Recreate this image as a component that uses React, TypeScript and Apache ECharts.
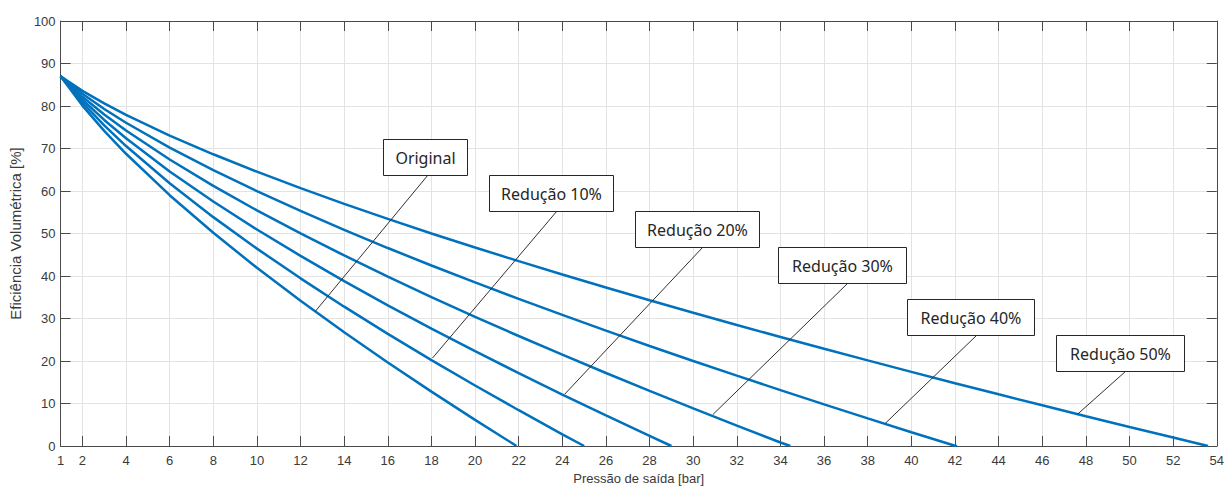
import React, { useEffect, useRef } from "react";
import * as echarts from "echarts";

// Pressão de saída [bar] and Eficiência Volumétrica [%] per curve
const xOriginal = [1, 2, 3, 4, 6, 8, 10, 12, 14, 16, 18, 20, 21.9];
const yOriginal = [87, 80.09, 74.15, 68.76, 59.01, 50.16, 41.93, 34.17, 26.76, 19.64, 12.79, 6.15, 0];

const xRed10 = [1, 2, 3, 4, 6, 8, 10, 12, 14, 16, 18, 20, 22, 24, 25];
const yRed10 = [87, 80.78, 75.43, 70.58, 61.81, 53.85, 46.44, 39.45, 32.78, 26.38, 20.2, 14.23, 8.42, 2.75, 0];

const xRed20 = [1, 2, 3, 4, 6, 8, 10, 12, 14, 16, 18, 20, 22, 24, 26, 28, 29];
const yRed20 = [87, 81.47, 76.72, 72.41, 64.6, 57.53, 50.94, 44.73, 38.8, 33.11, 27.62, 22.31, 17.15, 12.11, 7.19, 2.39, 0];

const xRed30 = [1, 2, 3, 4, 6, 8, 10, 12, 14, 16, 18, 20, 22, 24, 26, 28, 30, 32, 34, 34.45];
const yRed30 = [87, 82.16, 78.0, 74.23, 67.41, 61.21, 55.45, 50.02, 44.83, 39.85, 35.05, 30.4, 25.88, 21.48, 17.17, 12.97, 8.85, 4.81, 0.83, 0];

const xRed40 = [1, 2, 3, 4, 6, 8, 10, 12, 14, 16, 18, 20, 22, 24, 26, 28, 30, 32, 34, 36, 38, 40, 42, 42.1];
const yRed40 = [87, 82.86, 79.29, 76.05, 70.2, 64.9, 59.96, 55.3, 50.85, 46.58, 42.47, 38.49, 34.61, 30.84, 27.15, 23.54, 20.01, 16.55, 13.14, 9.79, 6.5, 3.25, 0.06, 0];

const xRed50 = [1, 2, 3, 4, 6, 8, 10, 12, 14, 16, 18, 20, 22, 24, 26, 28, 30, 32, 34, 36, 38, 40, 42, 44, 46, 48, 50, 52, 53.6];
const yRed50 = [87, 83.56, 80.6, 77.91, 73.05, 68.64, 64.54, 60.67, 56.98, 53.43, 50.01, 46.71, 43.49, 40.35, 37.29, 34.29, 31.36, 28.48, 25.65, 22.87, 20.14, 17.44, 14.78, 12.16, 9.57, 7.01, 4.49, 1.99, 0];

const seriesNames = ["Original", "Redução 10%", "Redução 20%", "Redução 30%", "Redução 40%", "Redução 50%"];
const seriesX = [xOriginal, xRed10, xRed20, xRed30, xRed40, xRed50];
const seriesY = [yOriginal, yRed10, yRed20, yRed30, yRed40, yRed50];

const xTicks = [2, 4, 6, 8, 10, 12, 14, 16, 18, 20, 22, 24, 26, 28, 30, 32, 34, 36, 38, 40, 42, 44, 46, 48, 50, 52, 54];
const xLabels = [1, 2, 4, 6, 8, 10, 12, 14, 16, 18, 20, 22, 24, 26, 28, 30, 32, 34, 36, 38, 40, 42, 44, 46, 48, 50, 52, 54];

// annotation anchor points on the curves (data coords)
const anchorX = [12.68, 18.05, 24.11, 30.9, 38.8, 47.6];
const anchorY = [31.7, 20.7, 12.2, 7.4, 5.3, 7.4];

// annotation box layout (pixels)
const boxes = [
  { x: 383, y: 139, w: 84, h: 36, lx: 428 },
  { x: 489, y: 175, w: 124, h: 36, lx: 557 },
  { x: 635, y: 211, w: 124, h: 36, lx: 703 },
  { x: 778, y: 247, w: 128, h: 36, lx: 848 },
  { x: 907, y: 299, w: 127, h: 36, lx: 977 },
  { x: 1056, y: 335, w: 128, h: 36, lx: 1126 },
];

const AXIS_COLOR = "#4a4a4a";
const FONT = "'Liberation Sans', Arial, Helvetica, sans-serif";

export default function App() {
  const ref = useRef<HTMLDivElement>(null);

  useEffect(() => {
    if (!ref.current) return;
    const chart = echarts.init(ref.current, undefined, { renderer: "svg" });

    const commonX = {
      type: "value" as const,
      min: 1,
      max: 54,
      axisLine: { show: true, onZero: false, lineStyle: { color: AXIS_COLOR, width: 1 } },
      axisTick: { show: true, inside: true, length: 10, customValues: xTicks, lineStyle: { color: AXIS_COLOR, width: 1 } },
    };
    const commonY = {
      type: "value" as const,
      min: 0,
      max: 100,
      interval: 10,
      axisLine: { show: true, onZero: false, lineStyle: { color: AXIS_COLOR, width: 1 } },
      axisTick: { show: true, inside: true, length: 10, lineStyle: { color: AXIS_COLOR, width: 1 } },
    };

    chart.setOption({
      animation: false,
      backgroundColor: "#ffffff",
      grid: { left: 57, right: 6, top: 21, bottom: 39, containLabel: false },
      xAxis: [
        {
          ...commonX,
          position: "bottom",
          name: "Pressão de saída [bar]",
          nameLocation: "middle",
          nameGap: 26,
          nameTextStyle: { color: "#3a3a3a", fontSize: 13, fontFamily: FONT },
          axisLabel: {
            show: true,
            customValues: xLabels,
            margin: 8,
            color: "#3a3a3a",
            fontSize: 13,
            fontFamily: FONT,
          },
          splitLine: { show: true, lineStyle: { color: "#e3e3e3", width: 1 } },
        },
        {
          ...commonX,
          position: "top",
          axisLabel: { show: false },
          splitLine: { show: false },
        },
      ],
      yAxis: [
        {
          ...commonY,
          position: "left",
          name: "Eficiência Volumétrica [%]",
          nameLocation: "middle",
          nameGap: 37,
          nameTextStyle: { color: "#3a3a3a", fontSize: 15, fontFamily: FONT },
          axisLabel: { show: true, margin: 5, color: "#3a3a3a", fontSize: 13, fontFamily: FONT },
          splitLine: { show: true, lineStyle: { color: "#e3e3e3", width: 1 } },
        },
        {
          ...commonY,
          position: "right",
          axisLabel: { show: false },
          splitLine: { show: false },
        },
      ],
      series: seriesNames.map((name, i) => ({
        name,
        type: "line",
        xAxisIndex: 0,
        yAxisIndex: 0,
        data: seriesX[i].map((x, j) => [x, seriesY[i][j]]),
        showSymbol: false,
        symbol: "none",
        smooth: false,
        lineStyle: { color: "#0072BD", width: 2.5 },
        z: 3,
      })),
    });

    const graphics: any[] = [];
    boxes.forEach((b, i) => {
      const p = chart.convertToPixel({ gridIndex: 0 }, [anchorX[i], anchorY[i]]) as number[];
      graphics.push({
        type: "line",
        z: 50,
        shape: { x1: b.lx, y1: b.y + b.h, x2: p[0], y2: p[1] },
        style: { stroke: "#303030", lineWidth: 1 },
      });
      graphics.push({
        type: "rect",
        z: 60,
        shape: { x: b.x + 0.5, y: b.y + 0.5, width: b.w, height: b.h },
        style: { fill: "#ffffff", stroke: "#262626", lineWidth: 1 },
      });
      graphics.push({
        type: "text",
        z: 61,
        style: {
          text: seriesNames[i],
          x: b.x + b.w / 2 + 0.5,
          y: b.y + b.h / 2 + 0.5,
          align: "center",
          verticalAlign: "middle",
          fill: "#262626",
          fontSize: 16,
          fontFamily: "'Noto Sans', 'Open Sans', sans-serif",
        },
      });
    });
    chart.setOption({ graphic: graphics });

    return () => chart.dispose();
  }, []);

  return (
    <div
      ref={ref}
      style={{ position: "fixed", left: 0, top: 0, width: 1227, height: 490, background: "#fff" }}
    />
  );
}
